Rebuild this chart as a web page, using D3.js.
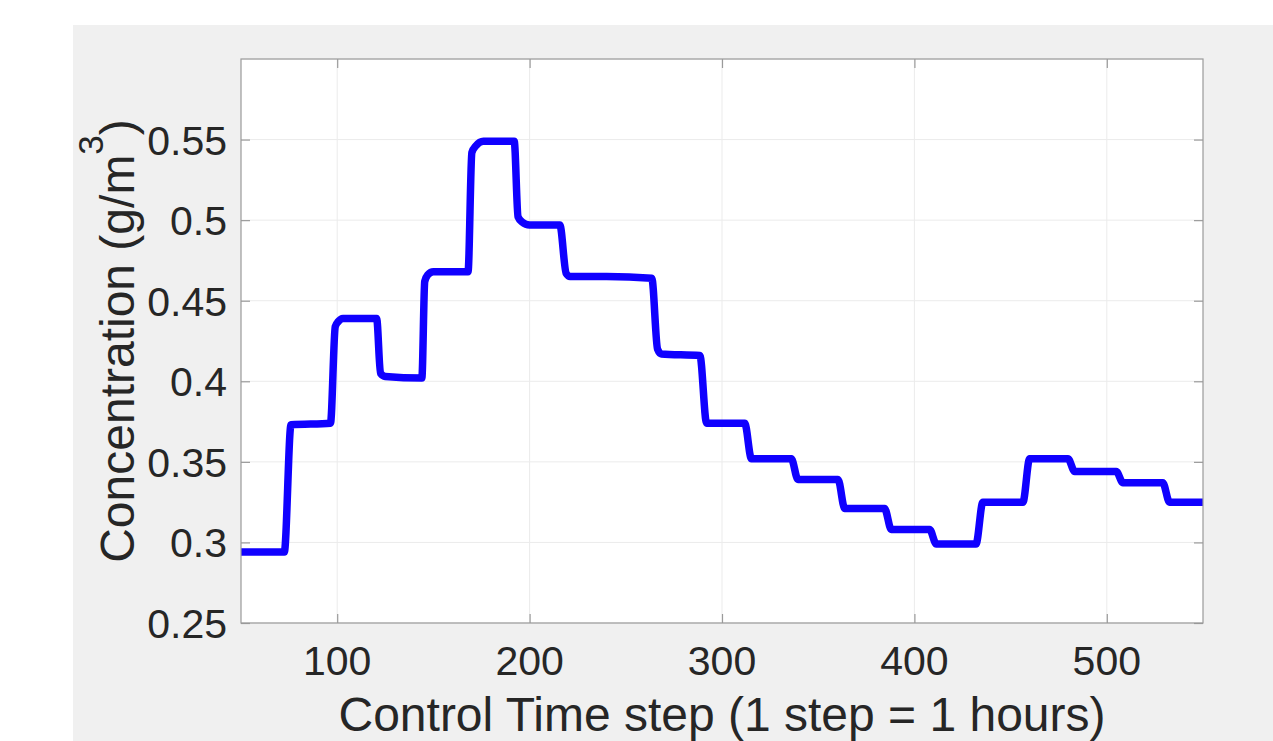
<!DOCTYPE html>
<html>
<head>
    <meta charset="utf-8">
    <title>Concentration per Control Time step</title>
    <style>
        body { margin: 0; background: #ffffff; }
        text { font-family: 'Liberation Sans', Arial, sans-serif; fill: #262626; }
    </style>
</head>
<body>
<div id="chart"></div>
<script src="https://cdn.jsdelivr.net/npm/d3@7"></script>
<script>
    // time step (hours) and concentration
    var timeSteps = [50, 72.5, 76, 96.5, 99, 100.5, 103, 120.5, 122.5, 125, 144, 145.5, 147, 150,
        168, 170, 172, 176, 192, 194, 196, 200, 215.7, 219, 221, 240, 263.5, 266.5, 268.5,
        288.5, 292, 311.8, 315.3, 336, 339.5, 360.3, 363.8, 384.5, 388, 407.9, 411.4, 432,
        435.6, 456.4, 459.9, 479.8, 483.3, 504.9, 508.4, 529.1, 532.6, 550];
    var concentration = [0.294, 0.294, 0.373, 0.374, 0.434, 0.437, 0.439, 0.439, 0.405, 0.403, 0.402, 0.462, 0.466, 0.468,
        0.468, 0.542, 0.546, 0.549, 0.549, 0.502, 0.499, 0.497, 0.497, 0.467, 0.465, 0.465, 0.464, 0.420, 0.417,
        0.416, 0.374, 0.374, 0.352, 0.352, 0.339, 0.339, 0.321, 0.321, 0.308, 0.308, 0.299, 0.299,
        0.325, 0.325, 0.352, 0.352, 0.344, 0.344, 0.337, 0.337, 0.325, 0.325];
    var xTicks = [100, 200, 300, 400, 500];
    var yTicks = [0.25, 0.3, 0.35, 0.4, 0.45, 0.5, 0.55];
    var yTickLabels = ['0.25', '0.3', '0.35', '0.4', '0.45', '0.5', '0.55'];

    (function(d3) {
        'use strict';
        var width = 1273;
        var height = 741;
        var left = 241, right = 1203, top = 59, bottom = 623;
        var tickLen = 9;
        var axisColor = '#9a9a9a';

        var data = timeSteps.map(function(t, i) { return { t: t, c: concentration[i] }; });

        var svg = d3.select('#chart')
            .append('svg')
            .attr('width', width)
            .attr('height', height);

        // figure background
        svg.append('rect')
            .attr('x', 73).attr('y', 25)
            .attr('width', width - 73).attr('height', height - 25)
            .attr('fill', '#f0f0f0');

        var x = d3.scaleLinear().domain([50, 550]).range([left, right]);
        var y = d3.scaleLinear().domain([0.25, 0.6]).range([bottom, top]);

        svg.append('rect')
            .attr('x', left).attr('y', top)
            .attr('width', right - left).attr('height', bottom - top)
            .attr('fill', '#ffffff');

        // grid
        svg.append('g')
            .selectAll('line')
            .data(xTicks)
            .enter()
            .append('line')
            .attr('x1', x).attr('x2', x)
            .attr('y1', top).attr('y2', bottom)
            .attr('stroke', '#ebebeb').attr('stroke-width', 1);
        svg.append('g')
            .selectAll('line')
            .data(yTicks.concat([0.6]))
            .enter()
            .append('line')
            .attr('x1', left).attr('x2', right)
            .attr('y1', y).attr('y2', y)
            .attr('stroke', '#ebebeb').attr('stroke-width', 1);

        // line
        var line = d3.line()
            .x(function(d) { return x(d.t); })
            .y(function(d) { return y(d.c); })
            .curve(d3.curveMonotoneX);

        svg.append('defs').append('clipPath').attr('id', 'clip')
            .append('rect')
            .attr('x', left).attr('y', top)
            .attr('width', right - left).attr('height', bottom - top);

        svg.append('path')
            .datum(data)
            .attr('clip-path', 'url(#clip)')
            .attr('d', line)
            .attr('fill', 'none')
            .attr('stroke', '#1000ff')
            .attr('stroke-width', 7.5)
            .attr('stroke-linejoin', 'round');

        // axes (inside ticks, mirrored on all sides)
        var xBottom = d3.axisBottom(x).tickValues(xTicks).tickSizeInner(-tickLen).tickSizeOuter(0).tickFormat('');
        var xTop = d3.axisTop(x).tickValues(xTicks).tickSizeInner(-tickLen).tickSizeOuter(0).tickFormat('');
        var yLeft = d3.axisLeft(y).tickValues(yTicks).tickSizeInner(-tickLen).tickSizeOuter(0).tickFormat('');
        var yRight = d3.axisRight(y).tickValues(yTicks).tickSizeInner(-tickLen).tickSizeOuter(0).tickFormat('');

        var axes = [
            svg.append('g').attr('transform', 'translate(0,' + bottom + ')').call(xBottom),
            svg.append('g').attr('transform', 'translate(0,' + top + ')').call(xTop),
            svg.append('g').attr('transform', 'translate(' + left + ',0)').call(yLeft),
            svg.append('g').attr('transform', 'translate(' + right + ',0)').call(yRight)
        ];
        axes.forEach(function(g) {
            g.select('.domain').remove();
            g.selectAll('line').attr('stroke', axisColor).attr('stroke-width', 1.2);
        });

        svg.append('rect')
            .attr('x', left).attr('y', top)
            .attr('width', right - left).attr('height', bottom - top)
            .attr('fill', 'none')
            .attr('stroke', axisColor)
            .attr('stroke-width', 1.2);

        // tick labels
        svg.append('g')
            .selectAll('text')
            .data(xTicks)
            .enter()
            .append('text')
            .attr('x', x)
            .attr('y', bottom + 52)
            .attr('text-anchor', 'middle')
            .style('font-size', '41px')
            .text(function(d) { return d; });

        svg.append('g')
            .selectAll('text')
            .data(yTicks)
            .enter()
            .append('text')
            .attr('x', left - 14)
            .attr('y', function(d) { return y(d) + 15; })
            .attr('text-anchor', 'end')
            .style('font-size', '41px')
            .text(function(d, i) { return yTickLabels[i]; });

        // axis labels
        svg.append('text')
            .attr('x', (left + right) / 2)
            .attr('y', 731)
            .attr('text-anchor', 'middle')
            .style('font-size', '48px')
            .text('Control Time step (1 step = 1 hours)');

        var yLabel = svg.append('text')
            .attr('transform', 'translate(134,' + ((top + bottom) / 2) + ') rotate(-90)')
            .attr('text-anchor', 'middle')
            .style('font-size', '48px');
        yLabel.append('tspan').text('Concentration (g/m');
        yLabel.append('tspan').attr('dy', -31).style('font-size', '35px').text('3');
        yLabel.append('tspan').attr('dy', 31).text(')');
    })(window.d3);
</script>
</body>
</html>
